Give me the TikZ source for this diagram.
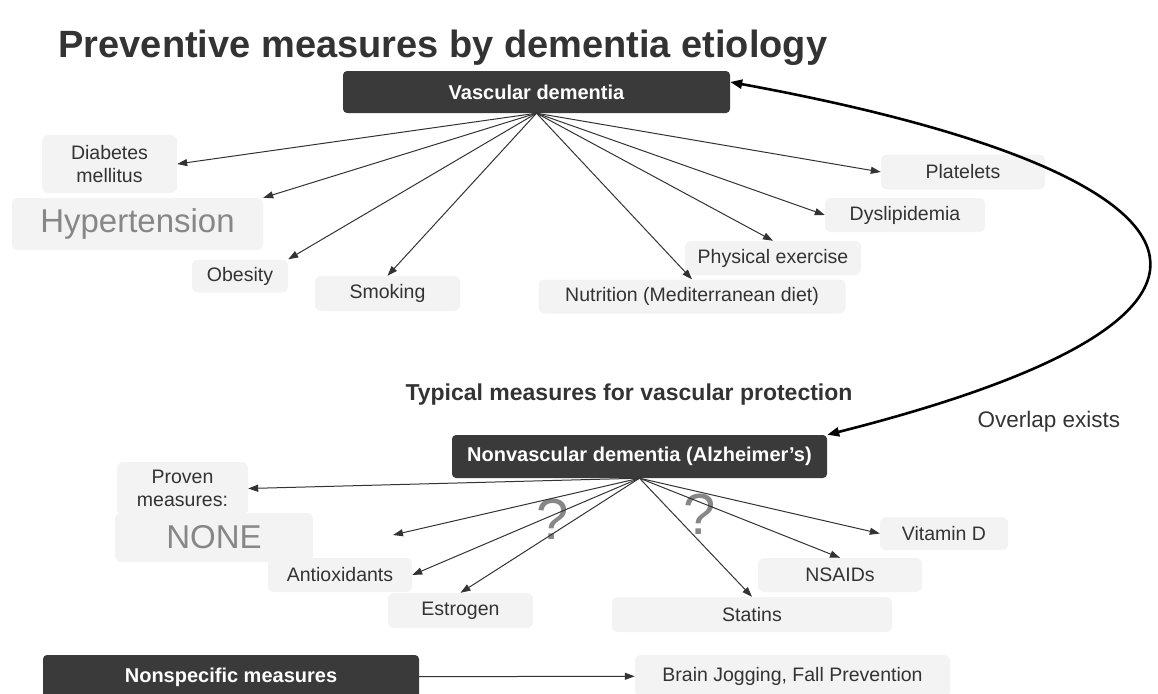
\documentclass[tikz,border=0pt]{standalone}
\usepackage{fontspec}
\setmainfont{Liberation Sans}
\usetikzlibrary{arrows.meta}
\definecolor{darkbox}{RGB}{58,58,58}
\definecolor{lightbox}{RGB}{243,243,243}
\definecolor{inkgray}{RGB}{51,51,51}
\definecolor{fadegray}{RGB}{135,135,135}

\begin{document}
\begin{tikzpicture}[x=1pt, y=-1pt,
    head/.style={fill=darkbox, text=white, rounded corners=4pt, inner sep=0pt,
                 font=\fontsize{20}{24}\selectfont\bfseries},
    item/.style={fill=lightbox, text=inkgray, rounded corners=6pt, inner sep=0pt,
                 align=center, font=\fontsize{19.5}{23}\selectfont},
    big/.style={item, text=fadegray, font=\fontsize{33}{38}\selectfont},
    arr/.style={-{Triangle[length=10pt,width=7pt]}, inkgray, line width=1pt},
    link/.style={{Triangle[length=12pt,width=9pt]}-{Triangle[length=12pt,width=9pt]},
                 black, line width=2.6pt},
    quest/.style={text=fadegray, font=\fontsize{58}{58}\selectfont}
]
\useasboundingbox (0,0) rectangle (1158,693);

\node[anchor=base west, text=inkgray, font=\fontsize{38}{44}\selectfont\bfseries] (title) at (55,58)
    {Preventive measures by dementia etiology};

% vascular branch
\node[head, minimum width=387pt, minimum height=42pt] (vd) at (536.5,92) {Vascular dementia};
\node[item, minimum width=135pt, minimum height=58pt] (diab) at (109.5,164) {Diabetes\\mellitus};
\node[big, minimum width=251pt, minimum height=52pt] (hyp) at (137.5,224) {Hypertension};
\node[item, minimum width=96pt, minimum height=33pt] (obes) at (240,276) {Obesity};
\node[item, minimum width=145pt, minimum height=35pt] (smok) at (387.5,293.5) {Smoking};
\node[item, minimum width=307pt, minimum height=34pt] (nutr) at (692,296.5) {Nutrition (Mediterranean diet)};
\node[item, minimum width=176pt, minimum height=34pt] (phys) at (773,258) {Physical exercise};
\node[item, minimum width=160pt, minimum height=34pt] (dysl) at (905,215) {Dyslipidemia};
\node[item, minimum width=164pt, minimum height=35pt] (plat) at (963,172) {Platelets};

\draw[arr] (vd.south) -- (diab.east);
\draw[arr] (vd.south) -- (hyp.north east);
\draw[arr] (vd.south) -- (obes.north east);
\draw[arr] (vd.south) -- (smok.north);
\draw[arr] (vd.south) -- (nutr.north);
\draw[arr] (vd.south) -- (phys.north);
\draw[arr] (vd.south) -- (dysl.west);
\draw[arr] (vd.south) -- (plat.west);

\node[anchor=west, text=inkgray, font=\fontsize{23}{27}\selectfont\bfseries] (typ) at (402,395)
    {Typical measures for vascular protection};
\node[anchor=west, text=inkgray, font=\fontsize{22.5}{26}\selectfont] (ovl) at (974,422) {Overlap exists};

% nonvascular branch
\node[head, minimum width=375pt, minimum height=43pt] (nvd) at (639.5,456.5) {Nonvascular dementia (Alzheimer's)};
\node[item, minimum width=131pt, minimum height=53pt] (prov) at (182.5,488.5) {Proven\\measures:};
\node[big, minimum width=198pt, minimum height=49pt] (none) at (214,537.5) {NONE};
\node[item, minimum width=144pt, minimum height=34pt] (anti) at (340,575) {Antioxidants};
\node[item, minimum width=145pt, minimum height=35pt] (estr) at (460.5,610.5) {Estrogen};
\node[item, minimum width=280pt, minimum height=35pt] (stat) at (752,614.5) {Statins};
\node[item, minimum width=164pt, minimum height=34pt] (nsai) at (840,575) {NSAIDs};
\node[item, minimum width=128pt, minimum height=33pt] (vitd) at (944,533.5) {Vitamin D};
\coordinate (loose) at (393,535);

\node[quest] (q1) at (553,519) {?};
\node[quest] (q2) at (700,514) {?};

\draw[arr] (nvd.south) -- (prov.east);
\draw[arr] (nvd.south) -- (loose);
\draw[arr] (nvd.south) -- (anti.east);
\draw[arr] (nvd.south) -- (estr.north);
\draw[arr] (nvd.south) -- (stat.north);
\draw[arr] (nvd.south) -- (nsai.north);
\draw[arr] (nvd.south) -- (vitd.west);

% overlap link
\draw[link] ([yshift=10pt]vd.east) .. controls (1210,170) and (1320,310) .. (nvd.north east);

% nonspecific
\node[head, minimum width=376pt, minimum height=44pt] (nsp) at (231,677) {Nonspecific measures};
\node[item, minimum width=315pt, minimum height=42pt] (brain) at (792.5,676) {Brain Jogging, Fall Prevention};
\draw[arr] (nsp) -- (brain);
\end{tikzpicture}
\end{document}
